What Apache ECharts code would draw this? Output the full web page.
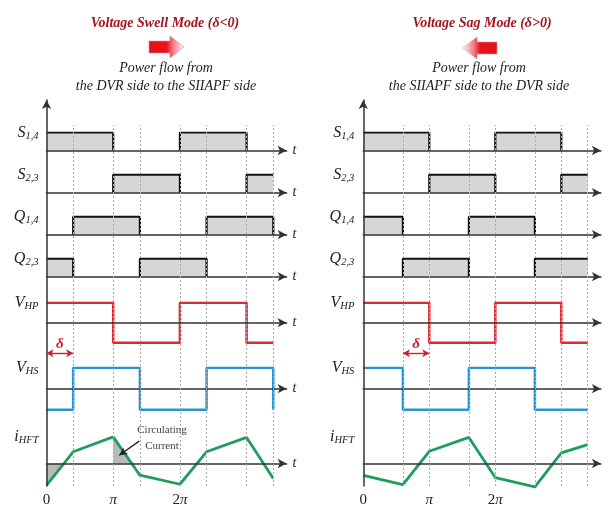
<!DOCTYPE html>
<html>
<head>
<meta charset="utf-8">
<script src="https://cdn.jsdelivr.net/npm/echarts@6/dist/echarts.min.js"></script>
<style>
  html, body { margin: 0; padding: 0; background: #fff; }
  #chart { width: 608px; height: 508px; }
</style>
</head>
<body>
<div id="chart"></div>
<script>
// Phase breakpoints of each mode, in units of π
const swellPhases = [0, 0.4, 1, 1.4, 2, 2.4, 3, 3.4];
const sagPhases   = [0, 0.6, 1, 1.6, 2, 2.6, 3, 3.4];

// Gate signals: level on each interval, last entry = level at the end point
const swellS14 = [1, 1, 0, 0, 1, 1, 0, 0];
const swellS23 = [0, 0, 1, 1, 0, 0, 1, 1];
const swellQ14 = [0, 1, 1, 0, 0, 1, 1, 0];
const swellQ23 = [1, 0, 0, 1, 1, 0, 0, 0];
const sagS14   = [1, 1, 0, 0, 1, 1, 0, 0];
const sagS23   = [0, 0, 1, 1, 0, 0, 1, 1];
const sagQ14   = [1, 0, 0, 1, 1, 0, 0, 0];
const sagQ23   = [0, 1, 1, 0, 0, 1, 1, 1];

// Transformer voltages (normalised)
const swellVHP = [1, 1, -1, -1, 1, 1, -1, -1];
const swellVHS = [-1, 1, 1, -1, -1, 1, 1, -1];
const sagVHP   = [1, 1, -1, -1, 1, 1, -1, -1];
const sagVHS   = [1, -1, -1, 1, 1, -1, -1, -1];

// HF transformer current at each phase breakpoint (normalised)
const swellIHFT = [-0.82, 0.44, 1.0, -0.44, -0.78, 0.44, 0.98, -0.56];
const sagIHFT   = [-0.45, -0.79, 0.46, 0.98, -0.53, -0.88, 0.40, 0.71];

// Phase shift δ between the bridge voltages (from, to), in units of π
const swellDelta = [0, 0.4];
const sagDelta   = [0.6, 1];

// Time-axis tick labels
const tickValues = [0, 1, 2];
const tickLabels = ['0', '{p|π}', '2{p|π}'];

// Row names: main letter + subscript
const rowNames = [['S', '1,4'], ['S', '2,3'], ['Q', '1,4'], ['Q', '2,3'], ['V', 'HP'], ['V', 'HS'], ['i', 'HFT']];

const SERIF = '"Liberation Serif", "Times New Roman", serif';
const AXIS_COLOR = '#333';
const RED = '#d92b36';
const BLUE = '#2b93d1';
const GREEN = '#1f9d5c';
const SPAN = 3.6;

// Row layout (pixel top / height) and value range
const rows = [
  { top: 132.5, h: 18,   min: 0,  max: 1 },
  { top: 174.7, h: 18,   min: 0,  max: 1 },
  { top: 216.7, h: 18,   min: 0,  max: 1 },
  { top: 258.7, h: 18,   min: 0,  max: 1 },
  { top: 302.7, h: 40,   min: -1, max: 1 },
  { top: 367.7, h: 42,   min: -1, max: 1 },
  { top: 436.9, h: 53.2, min: -1, max: 1 }
];

const panels = [
  {
    x0: 46.5, pi: 66.7, labelMargin: 8, showT: true,
    phases: swellPhases,
    gates: [swellS14, swellS23, swellQ14, swellQ23],
    vhp: swellVHP, vhs: swellVHS, ihft: swellIHFT,
    delta: swellDelta, shade: [0, 2],
    circArrow: [[1.39, 0.84], [1.09, 0.31]]
  },
  {
    x0: 363.3, pi: 66, labelMargin: 9, showT: false,
    phases: sagPhases,
    gates: [sagS14, sagS23, sagQ14, sagQ23],
    vhp: sagVHP, vhs: sagVHS, ihft: sagIHFT,
    delta: sagDelta, shade: [], circArrow: null
  }
];

// Build step outline points; optionally leave the baseline (level 0) undrawn
function stepPoints(phases, levels, gapAtZero) {
  const pts = [];
  for (let i = 0; i < phases.length - 1; i++) {
    const a = phases[i], b = phases[i + 1], L = levels[i];
    if (gapAtZero && L === 0) {
      pts.push([a, 0], [(a + b) / 2, '-'], [b, 0]);
    } else {
      pts.push([a, L], [b, L]);
    }
  }
  pts.push([phases[phases.length - 1], levels[levels.length - 1]]);
  return pts;
}

function zeroCross(x1, y1, x2, y2) {
  return x1 + (x2 - x1) * (-y1) / (y2 - y1);
}

const option = {
  animation: false,
  backgroundColor: '#fff',
  grid: [], xAxis: [], yAxis: [], series: [], graphic: []
};

panels.forEach(p => {
  const width = SPAN * p.pi;

  rows.forEach((r, k) => {
    option.grid.push({ left: p.x0, top: r.top, width: width, height: r.h });
    const gi = option.grid.length - 1;
    option.xAxis.push({
      gridIndex: gi, type: 'value', min: 0, max: SPAN, z: 3,
      axisLine: { show: true, onZero: true, symbol: ['none', 'arrow'], symbolSize: [7, 9],
        lineStyle: { color: AXIS_COLOR, width: 1.5 } },
      axisTick: { show: false }, axisLabel: { show: false }, splitLine: { show: false },
      name: p.showT ? 't' : '', nameLocation: 'end', nameGap: 6,
      nameTextStyle: { fontFamily: SERIF, fontStyle: 'italic', fontSize: 14, color: '#222' }
    });
    option.yAxis.push({
      gridIndex: gi, type: 'value', min: r.min, max: r.max, interval: r.max - r.min,
      axisLine: { show: false }, axisTick: { show: false }, splitLine: { show: false },
      axisLabel: {
        show: true, margin: p.labelMargin,
        formatter: v => (v === r.max ? '{m|' + rowNames[k][0] + '}{s|' + rowNames[k][1] + '}' : ''),
        rich: {
          m: { fontFamily: SERIF, fontStyle: 'italic', fontSize: 16, color: '#222', lineHeight: 18 },
          s: { fontFamily: SERIF, fontStyle: 'italic', fontSize: 10.5, color: '#222', lineHeight: 18,
               verticalAlign: 'bottom', padding: [6, 0, 0, 0] }
        }
      }
    });

    if (k < 4) {
      option.series.push({
        type: 'line', xAxisIndex: gi, yAxisIndex: gi, symbol: 'none', z: 2,
        data: stepPoints(p.phases, p.gates[k], true),
        lineStyle: { color: '#111', width: 2.2 },
        areaStyle: { color: '#d6d6d6', opacity: 1 }
      });
    } else if (k === 4) {
      option.series.push({
        type: 'line', xAxisIndex: gi, yAxisIndex: gi, symbol: 'none', z: 2,
        data: stepPoints(p.phases, p.vhp, false),
        lineStyle: { color: RED, width: 2.5 }
      });
    } else if (k === 5) {
      option.series.push({
        type: 'line', xAxisIndex: gi, yAxisIndex: gi, symbol: 'none', z: 2,
        data: stepPoints(p.phases, p.vhs, false),
        lineStyle: { color: BLUE, width: 2.5 }
      });
    } else {
      // shaded circulating-current regions, bounded by the current trace and zero
      const shadeData = [];
      p.shade.forEach(i => {
        const ph = p.phases, y = p.ihft;
        if (shadeData.length) shadeData.push([ph[i] - 0.1, '-']);
        shadeData.push([ph[i], y[i]], [zeroCross(ph[i], y[i], ph[i + 1], y[i + 1]), 0]);
      });
      if (shadeData.length) {
        option.series.push({
          type: 'line', xAxisIndex: gi, yAxisIndex: gi, symbol: 'none', z: 1,
          data: shadeData, lineStyle: { width: 0, opacity: 0 },
          areaStyle: { color: '#b9b9b9', opacity: 1 }
        });
      }
      const s = {
        type: 'line', xAxisIndex: gi, yAxisIndex: gi, symbol: 'none', z: 2,
        data: p.phases.map((x, i) => [x, p.ihft[i]]),
        lineStyle: { color: GREEN, width: 2.8, join: 'round' }
      };
      if (p.circArrow) {
        s.markLine = {
          silent: true, symbol: ['none', 'arrow'], symbolSize: [6, 8],
          lineStyle: { color: '#222', width: 1.3, type: 'solid' },
          label: { show: false },
          data: [[{ coord: p.circArrow[0] }, { coord: p.circArrow[1] }]]
        };
      }
      option.series.push(s);
    }
  });

  // Full-height overlay: vertical axis, phase guide lines, δ marker and time tick labels
  option.grid.push({ left: p.x0, top: 100, width: width, height: 390 });
  const og = option.grid.length - 1;
  option.xAxis.push({
    gridIndex: og, type: 'value', min: 0, max: SPAN, interval: 1,
    axisLine: { show: false }, axisTick: { show: false }, splitLine: { show: false },
    axisLabel: {
      show: true, margin: 7, fontFamily: SERIF, fontSize: 15, color: '#222',
      formatter: v => { const i = tickValues.indexOf(v); return i >= 0 ? tickLabels[i] : ''; },
      rich: { p: { fontFamily: SERIF, fontStyle: 'italic', fontSize: 15, color: '#222' } }
    }
  });
  option.yAxis.push({
    gridIndex: og, type: 'value', min: 0, max: 1, z: 3,
    axisLine: { show: true, symbol: ['none', 'arrow'], symbolSize: [7, 9],
      lineStyle: { color: AXIS_COLOR, width: 1.5 } },
    axisTick: { show: false }, axisLabel: { show: false }, splitLine: { show: false }
  });
  const deltaY = 0.3436;
  option.series.push({
    type: 'line', xAxisIndex: og, yAxisIndex: og, symbol: 'none', z: 3,
    data: [[0, '-']],
    markLine: {
      silent: true, symbol: 'none', label: { show: false },
      lineStyle: { color: '#aaaaaa', width: 1, type: [2, 2] },
      data: p.phases.slice(1).map(x => [{ coord: [x, 0] }, { coord: [x, 0.935] }])
    }
  });
  option.series.push({
    type: 'line', xAxisIndex: og, yAxisIndex: og, symbol: 'none', z: 4,
    data: [[0, '-']],
    markLine: {
      silent: true, symbol: ['arrow', 'arrow'], symbolSize: [6, 7],
      lineStyle: { color: '#c8202c', width: 1.4, type: 'solid' },
      label: { show: true, position: 'middle', distance: 2, formatter: 'δ',
        fontFamily: SERIF, fontStyle: 'italic', fontWeight: 'bold', fontSize: 15, color: '#c8202c' },
      data: [[{ coord: [p.delta[0], deltaY] }, { coord: [p.delta[1], deltaY] }]]
    }
  });
});

// Headings, power-flow captions and direction arrows
const headings = [
  { text: 'Voltage Swell Mode (δ<0)', x: 165, flow: 'Power flow from\nthe DVR side to the SIIAPF side', fx: 166 },
  { text: 'Voltage Sag Mode (δ>0)', x: 482, flow: 'Power flow from\nthe SIIAPF side to the DVR side', fx: 479 }
];
headings.forEach(h => {
  option.graphic.push({
    type: 'text', x: h.x, y: 23,
    style: { text: h.text, textAlign: 'center', textVerticalAlign: 'middle',
      font: 'italic bold 14px ' + SERIF, fill: '#a3141f' }
  });
  option.graphic.push({
    type: 'text', x: h.fx, y: 77,
    style: { text: h.flow, textAlign: 'center', textVerticalAlign: 'middle', lineHeight: 18,
      font: 'italic 14px ' + SERIF, fill: '#222' }
  });
});

option.graphic.push({
  type: 'polygon', z: 10,
  shape: { points: [[149, 41], [170, 41], [170, 36], [184, 47], [170, 58], [170, 53], [149, 53]] },
  style: {
    fill: new echarts.graphic.LinearGradient(0, 0, 1, 0, [
      { offset: 0, color: '#e4101c' }, { offset: 0.5, color: '#e8121e' },
      { offset: 0.68, color: '#f17a84' }, { offset: 1, color: '#ffffff' }
    ]),
    stroke: 'rgba(210,150,155,0.8)', lineWidth: 0.8
  }
});
option.graphic.push({
  type: 'polygon', z: 10,
  shape: { points: [[497, 42], [477, 42], [477, 37], [463, 48], [477, 59], [477, 54], [497, 54]] },
  style: {
    fill: new echarts.graphic.LinearGradient(0, 0, 1, 0, [
      { offset: 0, color: '#ffffff' }, { offset: 0.32, color: '#f17a84' },
      { offset: 0.5, color: '#e8121e' }, { offset: 1, color: '#e4101c' }
    ]),
    stroke: 'rgba(210,150,155,0.8)', lineWidth: 0.8
  }
});

option.graphic.push({
  type: 'text', x: 162, y: 438, z: 10,
  style: { text: 'Circulating\nCurrent', textAlign: 'center', textVerticalAlign: 'middle',
    lineHeight: 16, font: '11px ' + SERIF, fill: '#444' }
});

const chart = echarts.init(document.getElementById('chart'), null, { renderer: 'canvas' });
chart.setOption(option);
</script>
</body>
</html>
